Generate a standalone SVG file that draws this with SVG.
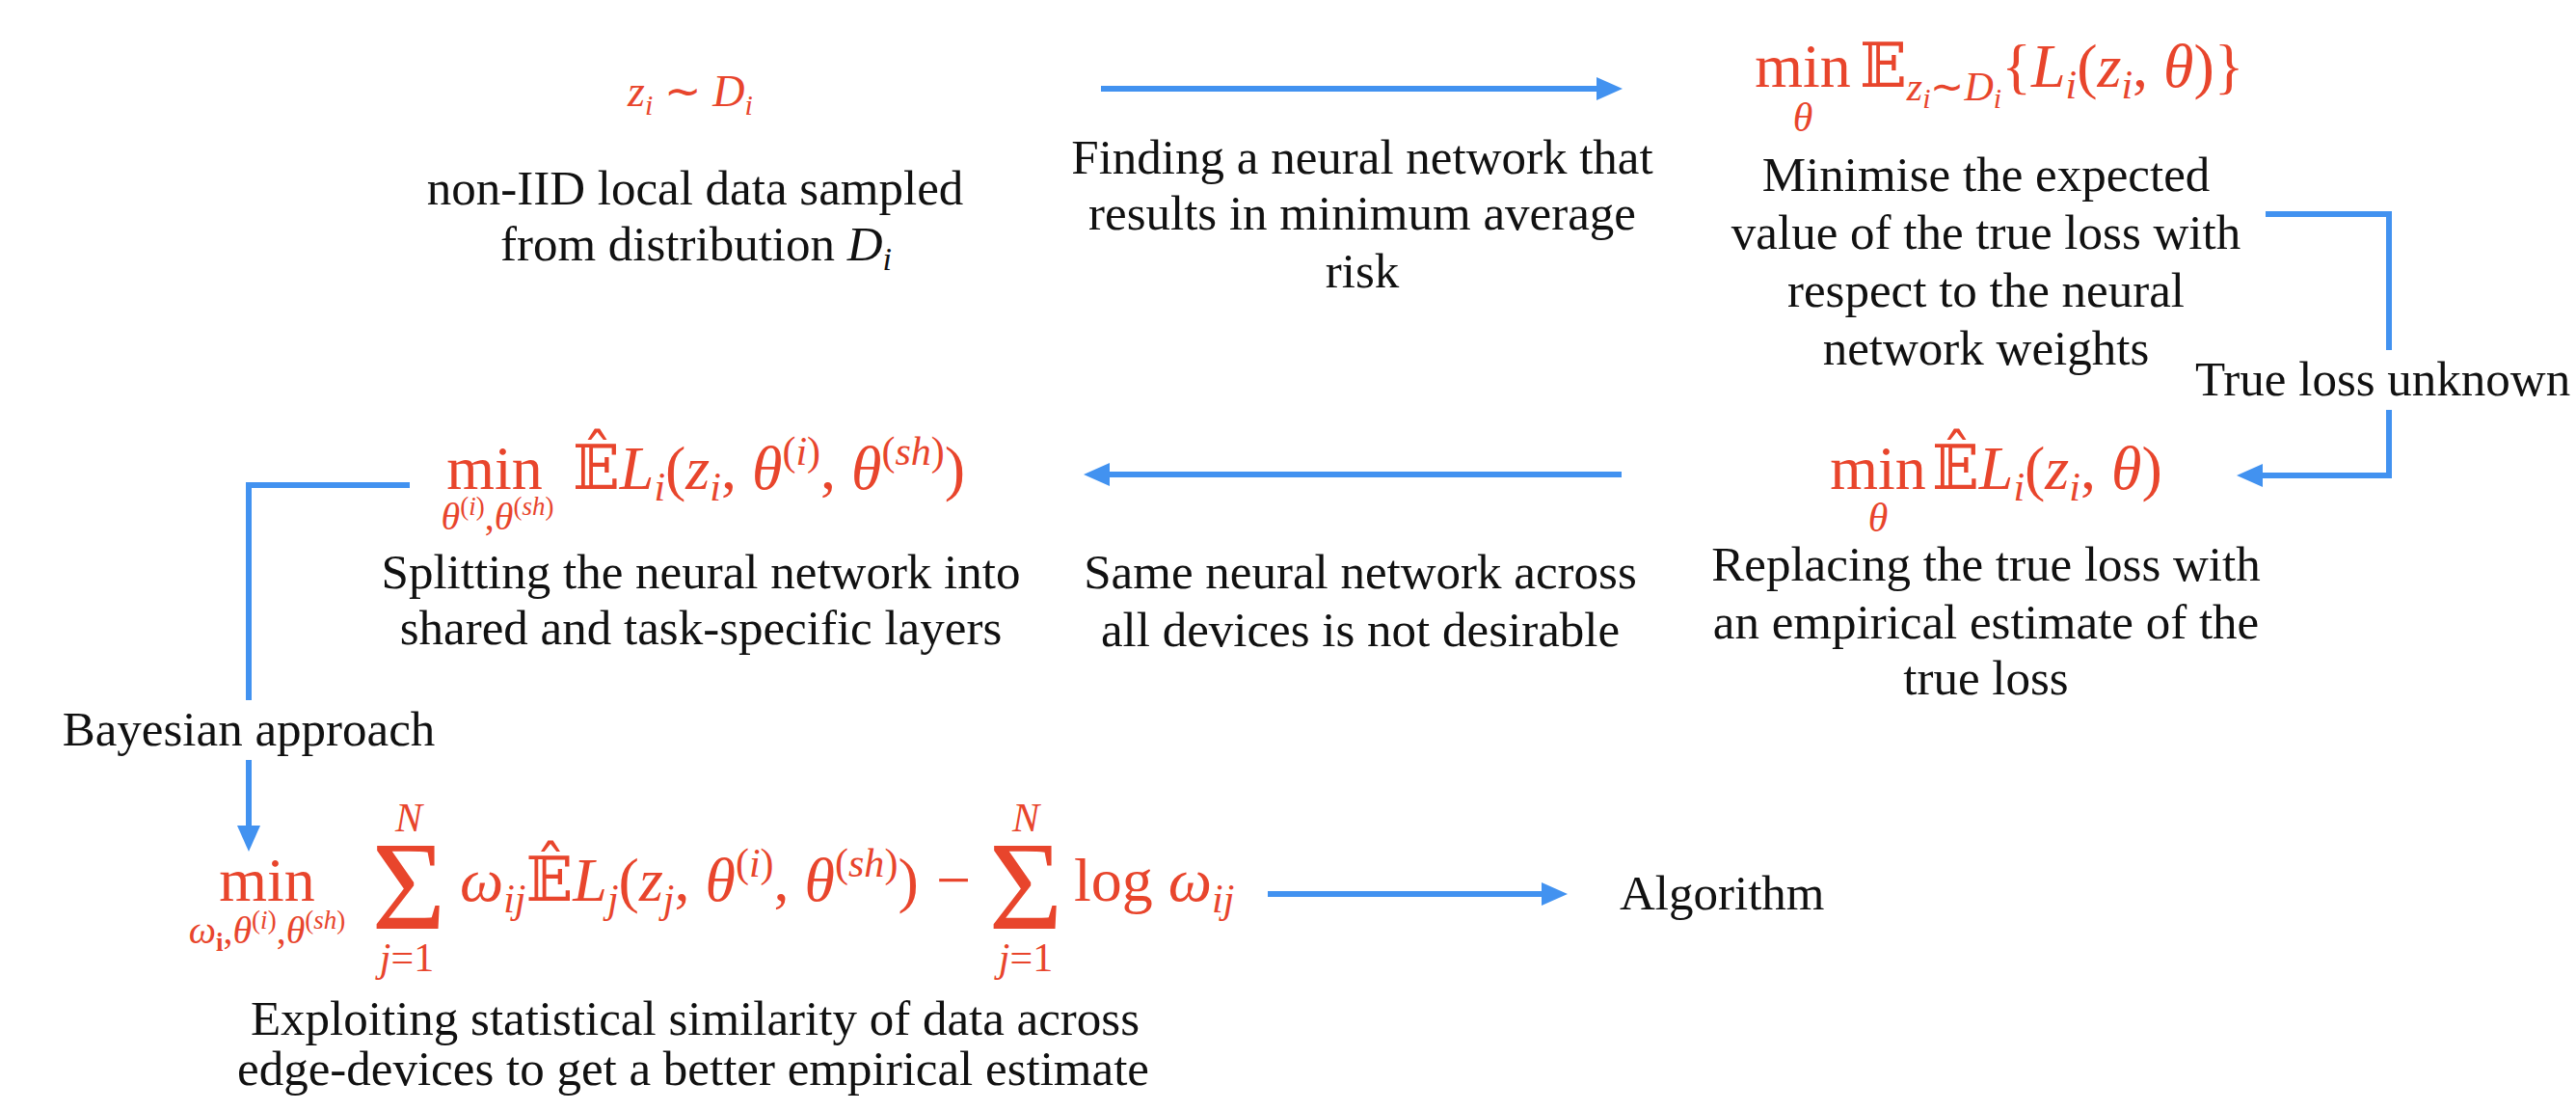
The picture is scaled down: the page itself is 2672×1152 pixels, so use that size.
<svg xmlns="http://www.w3.org/2000/svg" width="2672" height="1152" viewBox="0 0 2672 1152">
<defs>
<style>
.t{font-family:"Liberation Serif",serif;font-size:51px;fill:#111;text-anchor:middle}
.ts{font-family:"Liberation Serif",serif;font-size:51px;fill:#111}
.m{font-family:"Liberation Serif",serif;fill:#E8452C}
.i{font-style:italic}
.bb{font-family:"DejaVu Serif","DejaVu Sans",serif;font-style:normal}
.c{fill:none;stroke:#4292F0;stroke-width:6}
</style>
<marker id="ah" viewBox="0 0 27 24" refX="1" refY="12" markerWidth="27" markerHeight="24" markerUnits="userSpaceOnUse" orient="auto">
<path d="M0,0 L27,12 L0,24 z" fill="#4292F0"/>
</marker>
</defs>
<rect width="2672" height="1152" fill="#fff"/>

<g id="connectors">
<path class="c" d="M1142,92 H1657" marker-end="url(#ah)"/>
<path class="c" d="M2350,222 H2478 V363 M2478,425 V493 H2346" marker-end="url(#ah)"/>
<path class="c" d="M1682,492 H1150" marker-end="url(#ah)"/>
<path class="c" d="M425,503 H258 V726 M258,788 V857" marker-end="url(#ah)"/>
<path class="c" d="M1315,927 H1600" marker-end="url(#ah)"/>
</g>

<g id="edge-labels">
<text class="t" x="1413" y="180">Finding a neural network that</text>
<text class="t" x="1413" y="238">results in minimum average</text>
<text class="t" x="1413" y="298">risk</text>
<text class="ts" x="2277" y="410" font-size="53">True loss unknown</text>
<text class="t" x="1411" y="610">Same neural network across</text>
<text class="t" x="1411" y="670">all devices is not desirable</text>
<text class="t" x="258" y="773">Bayesian approach</text>
</g>

<g id="node-data">
<text class="m" x="716" y="110" font-size="46" text-anchor="middle"><tspan class="i">z</tspan><tspan class="i" font-size="30" dy="9">i</tspan><tspan dy="-9"> ∼ </tspan><tspan class="i">D</tspan><tspan class="i" font-size="30" dy="9">i</tspan></text>
<text class="t" x="721" y="212">non-IID local data sampled</text>
<text class="t" x="722" y="270">from distribution <tspan class="i">D</tspan><tspan class="i" font-size="34" dy="10">i</tspan></text>
</g>

<g id="node-expected-loss">
<text class="m" x="1870" y="90" font-size="64" text-anchor="middle">min</text>
<text class="m i" x="1870" y="136" font-size="42" text-anchor="middle">θ</text>
<text class="m" x="1929" y="90" font-size="64"><tspan class="bb">𝔼</tspan><tspan class="i" font-size="42" dy="14">z</tspan><tspan class="i" font-size="30" dy="8">i</tspan><tspan font-size="42" dy="-8">∼</tspan><tspan class="i" font-size="42">D</tspan><tspan class="i" font-size="30" dy="8">i</tspan><tspan dy="-22">{</tspan><tspan class="i">L</tspan><tspan class="i" font-size="42" dy="12">i</tspan><tspan dy="-12">(</tspan><tspan class="i">z</tspan><tspan class="i" font-size="42" dy="12">i</tspan><tspan dy="-12">, </tspan><tspan class="i">θ</tspan>)}</text>
<text class="t" x="2060" y="198">Minimise the expected</text>
<text class="t" x="2060" y="258">value of the true loss with</text>
<text class="t" x="2060" y="318">respect to the neural</text>
<text class="t" x="2060" y="378">network weights</text>
</g>

<g id="node-empirical-loss">
<text class="m" x="1948" y="507" font-size="64" text-anchor="middle">min</text>
<text class="m i" x="1948" y="551" font-size="42" text-anchor="middle">θ</text>
<text class="m" x="2004" y="507" font-size="64"><tspan class="bb">𝔼̂</tspan><tspan class="i">L</tspan><tspan class="i" font-size="42" dy="12">i</tspan><tspan dy="-12">(</tspan><tspan class="i">z</tspan><tspan class="i" font-size="42" dy="12">i</tspan><tspan dy="-12">, </tspan><tspan class="i">θ</tspan>)</text>
<text class="t" x="2060" y="602">Replacing the true loss with</text>
<text class="t" x="2060" y="662">an empirical estimate of the</text>
<text class="t" x="2060" y="720">true loss</text>
</g>

<g id="node-split">
<text class="m" x="513" y="507" font-size="64" text-anchor="middle">min</text>
<text class="m" x="516" y="549" font-size="40" text-anchor="middle"><tspan class="i">θ</tspan><tspan font-size="27" dy="-15">(<tspan class="i">i</tspan>)</tspan><tspan dy="15">,</tspan><tspan class="i">θ</tspan><tspan font-size="27" dy="-15">(<tspan class="i">sh</tspan>)</tspan></text>
<text class="m" x="594" y="507" font-size="64"><tspan class="bb">𝔼̂</tspan><tspan class="i">L</tspan><tspan class="i" font-size="42" dy="12">i</tspan><tspan dy="-12">(</tspan><tspan class="i">z</tspan><tspan class="i" font-size="42" dy="12">i</tspan><tspan dy="-12">, </tspan><tspan class="i">θ</tspan><tspan font-size="42" dy="-25">(<tspan class="i">i</tspan>)</tspan><tspan dy="25">, </tspan><tspan class="i">θ</tspan><tspan font-size="42" dy="-25">(<tspan class="i">sh</tspan>)</tspan><tspan dy="25">)</tspan></text>
<text class="t" x="727" y="610">Splitting the neural network into</text>
<text class="t" x="727" y="668">shared and task-specific layers</text>
</g>

<g id="node-bayesian">
<text class="m" x="277" y="934" font-size="64" text-anchor="middle">min</text>
<text class="m" x="277" y="978" font-size="40" text-anchor="middle"><tspan class="i">ω</tspan><tspan font-size="27" font-weight="bold" dy="8">i</tspan><tspan dy="-8">,</tspan><tspan class="i">θ</tspan><tspan font-size="27" dy="-15">(<tspan class="i">i</tspan>)</tspan><tspan dy="15">,</tspan><tspan class="i">θ</tspan><tspan font-size="27" dy="-15">(<tspan class="i">sh</tspan>)</tspan></text>
<text class="m" x="424" y="963" font-size="132" text-anchor="middle">Σ</text>
<text class="m i" x="424" y="862" font-size="42" text-anchor="middle">N</text>
<text class="m" x="422" y="1007" font-size="42" text-anchor="middle"><tspan class="i">j</tspan>=1</text>
<text class="m" x="477" y="934" font-size="64"><tspan class="i">ω</tspan><tspan class="i" font-size="42" dy="12">ij</tspan><tspan class="bb" dy="-12">𝔼̂</tspan><tspan class="i">L</tspan><tspan class="i" font-size="42" dy="12">j</tspan><tspan dy="-12">(</tspan><tspan class="i">z</tspan><tspan class="i" font-size="42" dy="12">j</tspan><tspan dy="-12">, </tspan><tspan class="i">θ</tspan><tspan font-size="42" dy="-25">(<tspan class="i">i</tspan>)</tspan><tspan dy="25">, </tspan><tspan class="i">θ</tspan><tspan font-size="42" dy="-25">(<tspan class="i">sh</tspan>)</tspan><tspan dy="25">)</tspan></text>
<text class="m" x="989" y="934" font-size="64" text-anchor="middle">−</text>
<text class="m" x="1064" y="963" font-size="132" text-anchor="middle">Σ</text>
<text class="m i" x="1064" y="862" font-size="42" text-anchor="middle">N</text>
<text class="m" x="1064" y="1007" font-size="42" text-anchor="middle"><tspan class="i">j</tspan>=1</text>
<text class="m" x="1114" y="934" font-size="64">log <tspan class="i">ω</tspan><tspan class="i" font-size="42" dy="12">ij</tspan></text>
<text class="t" x="721" y="1073">Exploiting statistical similarity of data across</text>
<text class="t" x="719" y="1125">edge-devices to get a better empirical estimate</text>
</g>

<g id="node-algorithm">
<text class="ts" x="1680" y="943">Algorithm</text>
</g>
</svg>
